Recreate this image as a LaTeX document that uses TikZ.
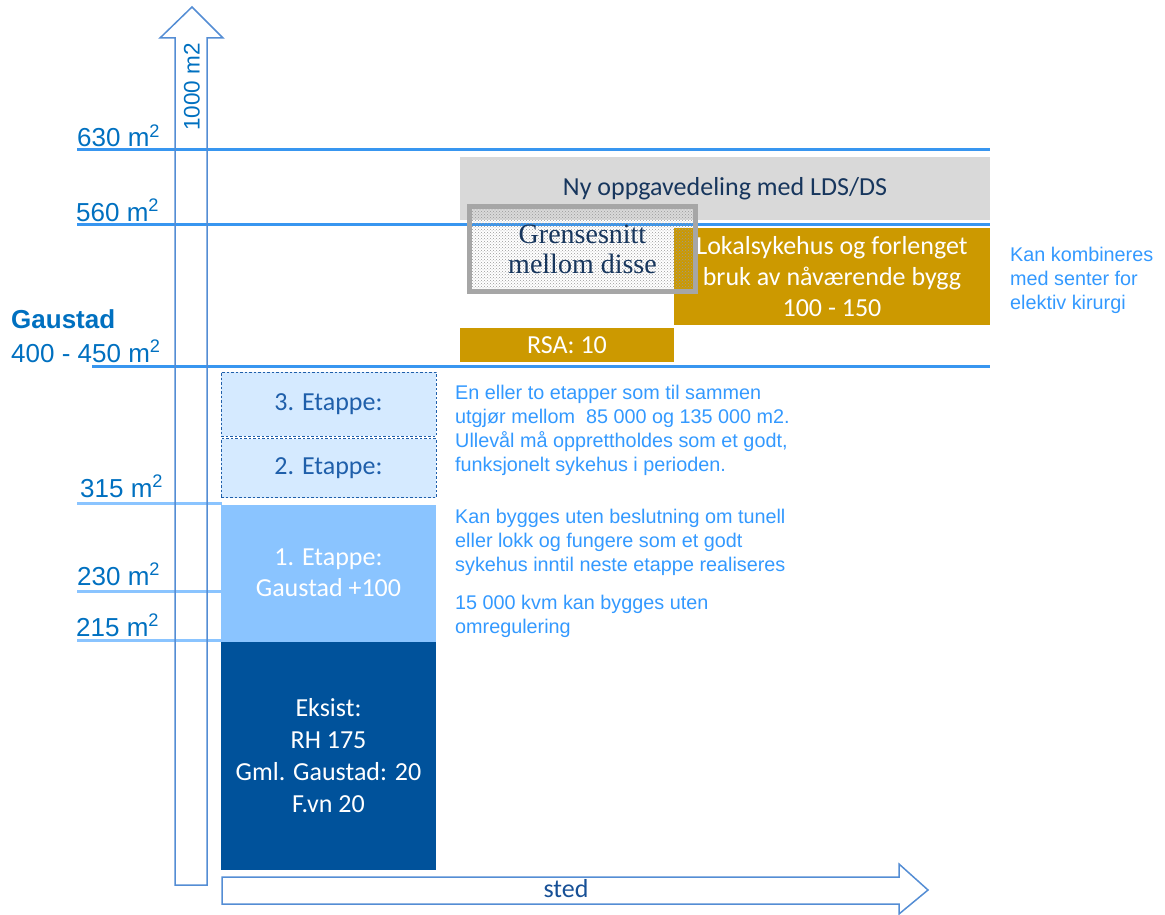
\documentclass[tikz,border=0pt]{standalone}
\usepackage{fontspec}
\setmainfont{Carlito}
\newfontfamily\arialfont{Liberation Sans}
\newfontfamily\cambriafont{Liberation Serif}
\usetikzlibrary{positioning,patterns}

\definecolor{lineblue}{RGB}{56,150,240}
\definecolor{linelight}{RGB}{138,196,255}
\definecolor{labelblue}{RGB}{0,112,192}
\definecolor{noteblue}{RGB}{51,153,255}
\definecolor{axisblue}{RGB}{84,141,212}
\definecolor{navy}{RGB}{23,54,93}
\definecolor{gold}{RGB}{204,153,0}
\definecolor{greybox}{RGB}{217,217,217}
\definecolor{etappefill}{RGB}{213,234,255}
\definecolor{etappetext}{RGB}{31,95,170}
\definecolor{firstfill}{RGB}{138,196,255}
\definecolor{eksistfill}{RGB}{0,82,155}
\definecolor{stedtext}{RGB}{23,80,150}

\begin{document}
\begin{tikzpicture}[
            x=1pt,y=-1pt,
            level/.style={
              draw=lineblue,
              line width=3pt
            },
            levellight/.style={
              draw=linelight,
              line width=3pt
            },
            mlabel/.style={
              anchor=base west,
              inner sep=0pt,
              text=labelblue,
              font=\arialfont\fontsize{26}{30}\selectfont
            },
            blok/.style={
              rectangle,
              inner sep=0pt,
              align=center,
              minimum width=215,
              font=\fontsize{26}{31}\selectfont
            },
            etappe/.style={
              blok,
              fill=etappefill,
              draw=etappetext,
              line width=0.9pt,
              dash pattern=on 2.5pt off 2pt,
              text=etappetext
            },
            note/.style={
              anchor=north west,
              align=left,
              inner sep=0pt,
              text=noteblue,
              font=\arialfont\fontsize{19.8}{24}\selectfont
            },
            axis/.style={
              draw=axisblue,
              line width=1.5pt,
              line join=miter
            }
            ]
            \useasboundingbox (0,0) rectangle (1165,915);

            % levels
            \draw[level] (77,150) -- (990,150);
            \draw[level] (77,224) -- (990,224);
            \draw[level] (92,366) -- (990,366);
            \draw[levellight] (77,503) -- (222,503);
            \draw[levellight] (77,591) -- (222,591);
            \draw[levellight] (77,640) -- (222,640);

            \node[mlabel] (l630) at (77,147) {630 m\textsuperscript{2}};
            \node[mlabel] (l560) at (76,221) {560 m\textsuperscript{2}};
            \node[mlabel,font=\arialfont\bfseries\fontsize{26}{30}\selectfont]
              (gaustad) at (11,328) {Gaustad};
            \node[mlabel] (l400) at (11,362) {400 - 450 m\textsuperscript{2}};
            \node[mlabel] (l315) at (80,497) {315 m\textsuperscript{2}};
            \node[mlabel] (l230) at (77,585) {230 m\textsuperscript{2}};
            \node[mlabel] (l215) at (76,636) {215 m\textsuperscript{2}};

            % axes
            \draw[axis] (175,885) -- (175,38) -- (160,38) -- (192,7)
              -- (223,38) -- (207,38) -- (207,885) -- cycle;
            \draw[axis] (222,877) -- (899,877) -- (899,864) -- (928,890)
              -- (899,914) -- (899,904) -- (222,904) -- cycle;
            \node[rotate=90,text=labelblue,font=\arialfont\fontsize{22.5}{26}\selectfont]
              (area) at (192,87) {1000 m2};
            \node[text=stedtext,font=\fontsize{26}{30}\selectfont]
              (sted) at (566,889) {sted};

            % upper boxes
            \node[blok,fill=greybox,text=navy,minimum width=530,minimum height=63]
              (ny) at (725,188.5) {Ny oppgavedeling med LDS/DS};
            \node[blok,fill=gold,text=white,minimum width=316,minimum height=97]
              (lokal) at (832,276.5) {Lokalsykehus og forlenget\\bruk av nåværende bygg\\100 - 150};
            \node[blok,fill=gold,text=white,minimum width=214,minimum height=34]
              (rsa) at (567,345) {RSA: 10};
            \node[blok,draw=gray!70,line width=5pt,pattern=crosshatch dots,
              pattern color=gray!80,text=navy,minimum width=226,minimum height=85,
              font=\cambriafont\fontsize{28}{30}\selectfont]
              (gren) at (582.5,249) {Grensesnitt\\mellom disse};

            % left column
            \node[etappe,minimum height=64] (e3) at (328.5,404) {3. Etappe:};
            \node[etappe,minimum height=59,below=2pt of e3] (e2) {2. Etappe:};
            \node[blok,fill=firstfill,text=white,minimum height=137,below=6pt of e2]
              (e1) {1. Etappe:\\Gaustad +100};
            \node[blok,fill=eksistfill,text=white,minimum height=228,below=0pt of e1,
              font=\fontsize{26}{32}\selectfont]
              (eksist) {Eksist:\\RH 175\\Gml. Gaustad: 20\\F.vn 20};

            % notes
            \node[note] (n1) at (455,385) {En eller to etapper som til sammen\\utgjør mellom \ 85 000 og 135 000 m2.\\Ullevål må opprettholdes som et godt,\\funksjonelt sykehus i perioden.};
            \node[note] (n2) at (455,509) {Kan bygges uten beslutning om tunell\\eller lokk og fungere som et godt\\sykehus inntil neste etappe realiseres};
            \node[note] (n3) at (455,595) {15 000 kvm kan bygges uten\\omregulering};
            \node[note] (n4) at (1010,247) {Kan kombineres\\med senter for\\elektiv kirurgi};
        \end{tikzpicture}
\end{document}
